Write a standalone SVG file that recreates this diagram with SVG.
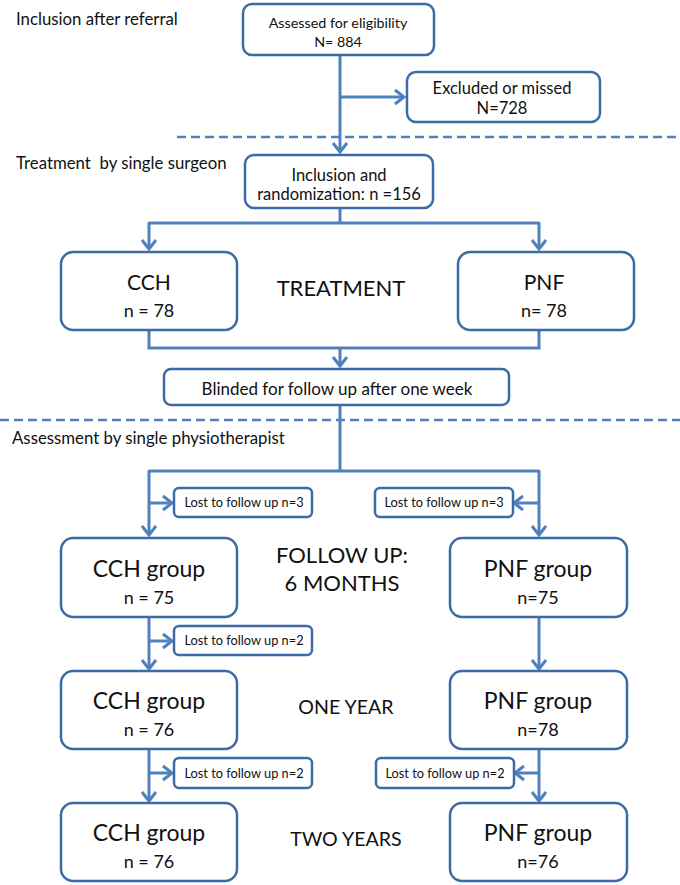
<svg xmlns="http://www.w3.org/2000/svg" width="680" height="885" viewBox="0 0 680 885">
<defs>
<marker id="arr" markerUnits="userSpaceOnUse" markerWidth="20" markerHeight="20" viewBox="-10 -10 20 20" refX="0" refY="0" orient="auto">
<path d="M-9,-7 L0,0 L-9,7" fill="none" stroke="#4f81bd" stroke-width="3"/>
</marker>
<style>
.box{fill:#fff;stroke:#3d6ba5;stroke-width:2.5}
.con{fill:none;stroke:#4f81bd;stroke-width:3}
.arr{marker-end:url(#arr)}
.dash{stroke:#4f81bd;stroke-width:2.5;stroke-dasharray:9 5}
text{font-family:Lato,"Open Sans",sans-serif;fill:#111;text-anchor:middle}
.lab{text-anchor:start;font-size:16.8px;white-space:pre}
.big{font-size:23px}
.mid{font-size:18px}
.sm{font-size:12.8px}
</style>
</defs>
<rect width="680" height="885" fill="#fff"/>
<line class="dash" x1="177" y1="137" x2="680" y2="137"/>
<line class="dash" x1="0" y1="420" x2="680" y2="420"/>
<text class="lab" x="16" y="25">Inclusion after referral</text>
<text class="lab" x="16" y="169">Treatment  by single surgeon</text>
<text class="lab" x="12" y="444">Assessment by single physiotherapist</text>
<g id="connectors">
<path class="con arr" d="M340,55 V152"/>
<path class="con arr" d="M340,97 H404"/>
<path class="con" d="M340,208 V223 M149,223 H539"/>
<path class="con arr" d="M149,222 V249"/>
<path class="con arr" d="M539,222 V249"/>
<path class="con" d="M149,330 V348 H539 V330"/>
<path class="con arr" d="M340,348 V366"/>
<path class="con" d="M340,405 V471 M149,471 H539"/>
<path class="con arr" d="M149,470 V535"/>
<path class="con arr" d="M539,470 V535"/>
<path class="con arr" d="M149,503 H172"/>
<path class="con arr" d="M539,503 H514"/>
<path class="con arr" d="M149,617 V669"/>
<path class="con arr" d="M149,641 H172"/>
<path class="con arr" d="M539,617 V669"/>
<path class="con arr" d="M149,749 V801"/>
<path class="con arr" d="M149,773 H172"/>
<path class="con arr" d="M539,749 V801"/>
<path class="con arr" d="M539,773 H515"/>
</g>
<g id="assessed"><rect class="box" x="243" y="4" width="191" height="51" rx="9"/><text x="338" y="28" font-size="14.3px">Assessed for eligibility</text><text x="338" y="47" font-size="14.3px">N= 884</text></g>
<g id="excluded"><rect class="box" x="407" y="72" width="193" height="50" rx="9"/><text x="502" y="94" font-size="16.5px">Excluded or missed</text><text x="502" y="114" font-size="16.5px">N=728</text></g>
<g id="inclusion"><rect class="box" x="245" y="155" width="188" height="53" rx="9"/><text x="339" y="181" font-size="16.5px">Inclusion and</text><text x="339" y="200" font-size="16.5px">randomization: n =156</text></g>
<g id="cch"><rect class="box" x="61" y="252" width="176" height="78" rx="12"/><text x="149" y="290" font-size="21px">CCH</text><text class="mid" x="149" y="317">n = 78</text></g>
<g id="treatment"><text x="341" y="296" font-size="22px">TREATMENT</text></g>
<g id="pnf"><rect class="box" x="458" y="252" width="176" height="78" rx="12"/><text x="544" y="290" font-size="21px">PNF</text><text class="mid" x="544" y="317">n= 78</text></g>
<g id="blinded"><rect class="box" x="164" y="369" width="345" height="36" rx="7"/><text x="337" y="395" font-size="17px">Blinded for follow up after one week</text></g>
<g id="lost1"><rect class="box" x="174" y="488" width="138" height="29" rx="5"/><text class="sm" x="244" y="507">Lost to follow up n=3</text></g>
<g id="lost2"><rect class="box" x="375" y="488" width="138" height="29" rx="5"/><text class="sm" x="444" y="507">Lost to follow up n=3</text></g>
<g id="cch6"><rect class="box" x="61" y="538" width="176" height="79" rx="12"/><text class="big" x="149" y="577">CCH group</text><text class="mid" x="149" y="604">n = 75</text></g>
<g id="fu6"><text x="342" y="563" font-size="22px">FOLLOW UP:</text><text x="342" y="591" font-size="22px">6 MONTHS</text></g>
<g id="pnf6"><rect class="box" x="450" y="538" width="177" height="79" rx="12"/><text class="big" x="538" y="577">PNF group</text><text class="mid" x="538" y="604">n=75</text></g>
<g id="lost3"><rect class="box" x="174" y="626" width="138" height="29" rx="5"/><text class="sm" x="244" y="645">Lost to follow up n=2</text></g>
<g id="cch1"><rect class="box" x="61" y="671" width="176" height="78" rx="12"/><text class="big" x="149" y="709">CCH group</text><text class="mid" x="149" y="736">n = 76</text></g>
<g id="oneyear"><text x="346" y="714" font-size="19.6px">ONE YEAR</text></g>
<g id="pnf1"><rect class="box" x="450" y="671" width="177" height="78" rx="12"/><text class="big" x="538" y="709">PNF group</text><text class="mid" x="538" y="736">n=78</text></g>
<g id="lost4"><rect class="box" x="174" y="758" width="138" height="30" rx="5"/><text class="sm" x="244" y="778">Lost to follow up n=2</text></g>
<g id="lost5"><rect class="box" x="376" y="758" width="138" height="30" rx="5"/><text class="sm" x="445" y="778">Lost to follow up n=2</text></g>
<g id="cch2"><rect class="box" x="61" y="803" width="176" height="78" rx="12"/><text class="big" x="149" y="841">CCH group</text><text class="mid" x="149" y="868">n = 76</text></g>
<g id="twoyears"><text x="346" y="846" font-size="19.6px">TWO YEARS</text></g>
<g id="pnf2"><rect class="box" x="450" y="803" width="177" height="78" rx="12"/><text class="big" x="538" y="841">PNF group</text><text class="mid" x="538" y="868">n=76</text></g>
</svg>
